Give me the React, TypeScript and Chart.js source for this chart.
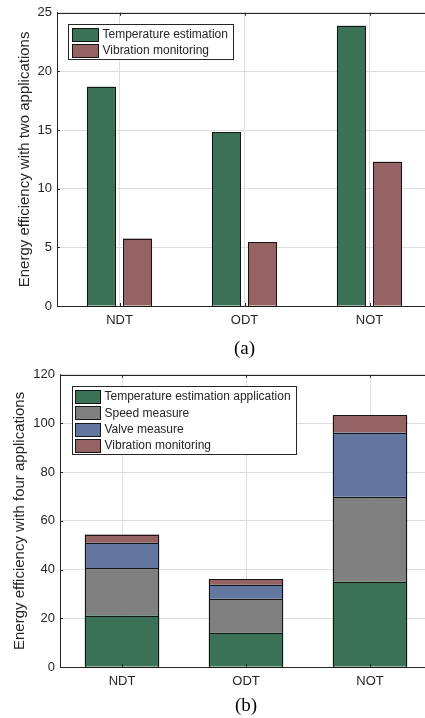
import React, { useEffect, useRef } from "react";
import { Chart, registerables } from "chart.js";

Chart.register(...registerables);

const categories = ["NDT", "ODT", "NOT"];

// (a) two applications
const twoTemperature = [18.7, 14.8, 23.9];
const twoVibration = [5.75, 5.45, 12.3];

// (b) four applications (stacked segments)
const fourTemperature = [21.1, 14.1, 35.1];
const fourSpeed = [19.5, 13.9, 34.8];
const fourValve = [10.4, 5.8, 26.4];
const fourVibration = [3.4, 2.3, 7.0];

const GREEN = "rgb(59,113,87)";
const RED = "rgb(149,99,99)";
const GRAY = "rgb(128,128,128)";
const BLUE = "rgb(99,118,160)";
const AXIS = "#262626";
const GRID = "#dedede";
const BAR_EDGE = "#151515";
const SANS = "'Liberation Sans', Arial, sans-serif";
const SERIF = "'Liberation Serif', 'Times New Roman', serif";

const framePlugin = {
  id: "frame",
  afterDatasetsDraw(chart: any, _args: any, opts: any) {
    const { ctx, chartArea } = chart;
    const { left, right, top, bottom } = chartArea;
    ctx.save();

    // crisp bar outlines from the bar elements laid out by Chart.js
    ctx.strokeStyle = BAR_EDGE;
    ctx.lineWidth = 1;
    chart.data.datasets.forEach((_d: any, di: number) => {
      const meta = chart.getDatasetMeta(di);
      meta.data.forEach((el: any) => {
        const p = el.getProps(["x", "y", "base", "width"], true);
        const x0 = Math.round(p.x - p.width / 2) + 0.5;
        const x1 = Math.round(p.x + p.width / 2) - 0.5;
        const y0 = Math.round(Math.min(p.y, p.base)) + 0.5;
        const y1 = Math.round(Math.max(p.y, p.base)) + 0.5;
        ctx.strokeRect(x0, y0, x1 - x0, y1 - y0);
      });
    });

    ctx.strokeStyle = AXIS;
    // top border
    ctx.beginPath();
    ctx.moveTo(left, Math.round(top) + 0.5);
    ctx.lineTo(right, Math.round(top) + 0.5);
    ctx.stroke();
    // inward ticks
    const tl = 3;
    const xs = chart.scales.x;
    xs.ticks.forEach((_t: any, i: number) => {
      const px = Math.round(xs.getPixelForTick(i)) + 0.5;
      ctx.beginPath();
      ctx.moveTo(px, top);
      ctx.lineTo(px, top + tl);
      ctx.moveTo(px, bottom);
      ctx.lineTo(px, bottom - tl);
      ctx.stroke();
    });
    const ys = chart.scales.y;
    ys.ticks.forEach((_t: any, i: number) => {
      const py = Math.round(ys.getPixelForTick(i)) + 0.5;
      ctx.beginPath();
      ctx.moveTo(left, py);
      ctx.lineTo(left + tl, py);
      ctx.stroke();
    });

    // legend box
    if (opts && opts.legend) {
      const lg = opts.legend;
      const items = chart.data.datasets.map((d: any) => ({ label: d.label, color: d.backgroundColor }));
      ctx.font = `12px ${SANS}`;
      let maxW = 0;
      items.forEach((it: any) => {
        maxW = Math.max(maxW, ctx.measureText(it.label).width);
      });
      const bx = Math.round(left + lg.dx) + 0.5;
      const by = Math.round(top + lg.dy) + 0.5;
      const bw = Math.round(lg.padL + lg.swW + lg.gap + maxW + lg.padR);
      const bh = Math.round(lg.padT + lg.rowH * (items.length - 1) + lg.padB);
      ctx.fillStyle = "#ffffff";
      ctx.fillRect(bx, by, bw, bh);
      ctx.strokeStyle = AXIS;
      ctx.strokeRect(bx, by, bw, bh);
      items.forEach((it: any, i: number) => {
        const cy = by + lg.padT + lg.rowH * i;
        const sx = bx + lg.padL;
        const sy = Math.round(cy - lg.swH / 2);
        ctx.fillStyle = it.color;
        ctx.fillRect(sx, sy, lg.swW, lg.swH);
        ctx.strokeStyle = BAR_EDGE;
        ctx.strokeRect(sx, sy + 0.5, lg.swW, lg.swH);
        ctx.fillStyle = AXIS;
        ctx.textBaseline = "middle";
        ctx.textAlign = "left";
        ctx.fillText(it.label, sx + lg.swW + lg.gap, cy + 0.5);
      });
    }
    ctx.restore();
  },
};

function makeOptions(cfg: any) {
  return {
    responsive: false,
    animation: false,
    layout: { padding: { top: cfg.padTop, right: 8, left: 0, bottom: 0 } },
    plugins: {
      legend: { display: false },
      tooltip: { enabled: false },
      frame: { legend: cfg.legend },
    },
    scales: {
      x: {
        stacked: cfg.stacked,
        offset: true,
        grid: { offset: false, color: GRID, drawTicks: false },
        border: { color: AXIS, width: 1 },
        ticks: { color: AXIS, font: { family: SANS, size: 13 }, padding: 7 },
        title: {
          display: true,
          text: cfg.xTitle,
          color: "#000",
          font: { family: SERIF, size: 19 },
          padding: { top: 0, bottom: cfg.xTitlePadB },
        },
        afterFit: (s: any) => {
          s.height = cfg.xHeight;
        },
      },
      y: {
        stacked: cfg.stacked,
        min: 0,
        max: cfg.yMax,
        ticks: { stepSize: cfg.yStep, color: AXIS, font: { family: SANS, size: 13 }, padding: 5 },
        grid: { color: GRID, drawTicks: false },
        border: { color: AXIS, width: 1 },
        title: {
          display: true,
          text: cfg.yTitle,
          color: AXIS,
          font: { family: SANS, size: 15 },
          padding: { top: cfg.yTitlePad, bottom: 0 },
        },
        afterFit: (s: any) => {
          s.width = cfg.yWidth;
        },
      },
    },
  };
}

export default function App() {
  const refA = useRef<HTMLCanvasElement>(null);
  const refB = useRef<HTMLCanvasElement>(null);

  useEffect(() => {
    const barStyle = { borderWidth: 0 };
    const chartA = new Chart(refA.current as HTMLCanvasElement, {
      type: "bar",
      data: {
        labels: categories,
        datasets: [
          {
            label: "Temperature estimation",
            data: twoTemperature,
            backgroundColor: GREEN,
            ...barStyle,
            categoryPercentage: 0.577,
            barPercentage: 0.806,
          },
          {
            label: "Vibration monitoring",
            data: twoVibration,
            backgroundColor: RED,
            ...barStyle,
            categoryPercentage: 0.577,
            barPercentage: 0.806,
          },
        ],
      },
      options: makeOptions({
        stacked: false,
        padTop: 11,
        xHeight: 56,
        yWidth: 57,
        yMax: 25,
        yStep: 5,
        xTitle: "(a)",
        xTitlePadB: 2,
        yTitle: "Energy efficiency with two applications",
        yTitlePad: 16,
        legend: { dx: 11, dy: 11, padL: 4, swW: 26, swH: 13, gap: 4, padR: 6, padT: 10, rowH: 16, padB: 9 },
      }) as any,
      plugins: [framePlugin],
    });

    const stackDs = (label: string, data: number[], color: string) => ({
      label,
      data,
      backgroundColor: color,
      ...barStyle,
      categoryPercentage: 1,
      barPercentage: 0.6,
    });

    const chartB = new Chart(refB.current as HTMLCanvasElement, {
      type: "bar",
      data: {
        labels: categories,
        datasets: [
          stackDs("Temperature estimation application", fourTemperature, GREEN),
          stackDs("Speed measure", fourSpeed, GRAY),
          stackDs("Valve measure", fourValve, BLUE),
          stackDs("Vibration monitoring", fourVibration, RED),
        ],
      },
      options: makeOptions({
        stacked: true,
        padTop: 12,
        xHeight: 51,
        yWidth: 60,
        yMax: 120,
        yStep: 20,
        xTitle: "(b)",
        xTitlePadB: 1,
        yTitle: "Energy efficiency with four applications",
        yTitlePad: 11,
        legend: { dx: 12, dy: 11, padL: 3, swW: 25, swH: 13, gap: 4, padR: 6, padT: 10, rowH: 16.3, padB: 9 },
      }) as any,
      plugins: [framePlugin],
    });

    return () => {
      chartA.destroy();
      chartB.destroy();
    };
  }, []);

  return (
    <div
      style={{
        position: "fixed",
        left: 0,
        top: 0,
        width: 425,
        height: 718,
        overflow: "hidden",
        background: "#fff",
      }}
    >
      <div style={{ position: "absolute", left: 0, top: 0, width: 440, height: 362 }}>
        <canvas ref={refA} width={440} height={362} style={{ display: "block" }} />
      </div>
      <div style={{ position: "absolute", left: 0, top: 362, width: 440, height: 356 }}>
        <canvas ref={refB} width={440} height={356} style={{ display: "block" }} />
      </div>
    </div>
  );
}
